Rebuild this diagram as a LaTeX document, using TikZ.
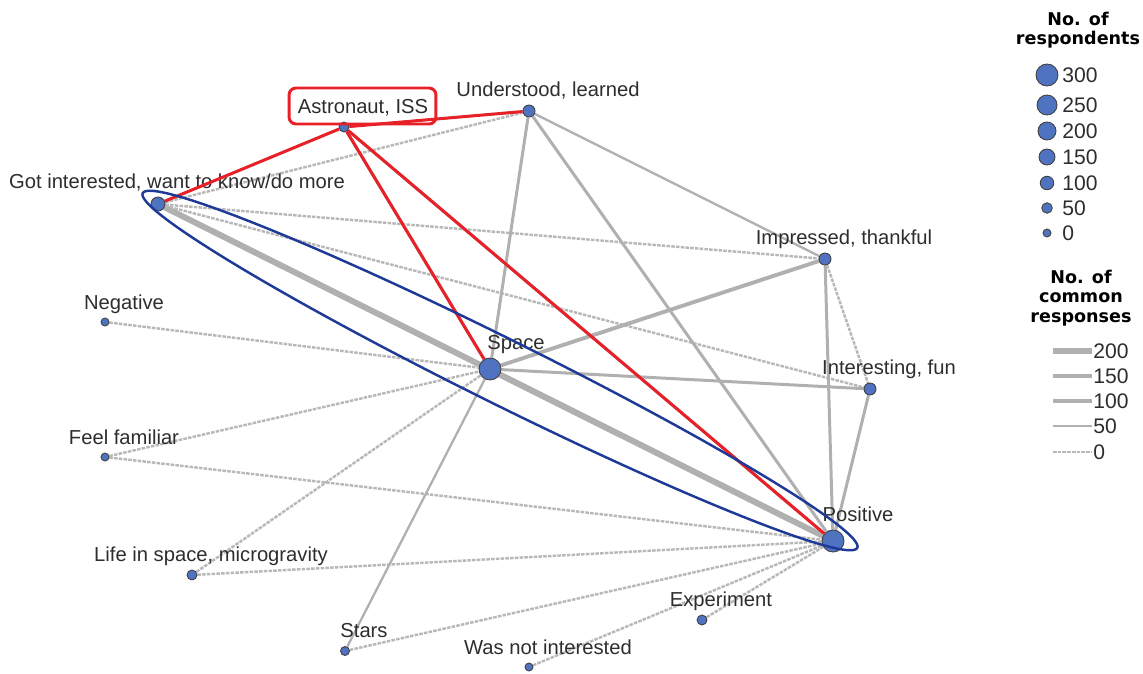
\documentclass[tikz,border=0pt]{standalone}
\usepackage{fontspec}
\setmainfont{Liberation Sans}
\newfontfamily\lgdfont{DejaVu Sans}
\usetikzlibrary{shapes.geometric, backgrounds}

\definecolor{nodeblue}{RGB}{79,114,193}
\definecolor{edgegray}{RGB}{176,176,176}
\definecolor{hlred}{RGB}{232,32,40}
\definecolor{hlblue}{RGB}{30,58,150}
\definecolor{txtgray}{RGB}{45,45,45}

\begin{document}
\begin{tikzpicture}[
      x=0.02cm, y=-0.02cm,
      resp/.style={circle, draw=black!75, fill=nodeblue, inner sep=0pt, line width=0.5pt},
      lbl/.style={font=\fontsize{11.5}{13}\selectfont, text=txtgray, inner sep=0pt, anchor=base, xshift=0.38cm, label distance=0.17cm},
      e0/.style={draw=edgegray!90, line width=1.4pt, dash pattern=on 2pt off 0.7pt},
      e25/.style={draw=edgegray, line width=1.3pt},
      e50/.style={draw=edgegray, line width=1.7pt},
      e100/.style={draw=edgegray, line width=2.2pt},
      e150/.style={draw=edgegray, line width=2.8pt},
      e200/.style={draw=edgegray, line width=3.4pt},
      hl/.style={draw=hlred, line width=1.7pt},
      hlbox/.style={rectangle, rounded corners=4pt, draw=hlred, line width=1.7pt, minimum width=2.94cm, minimum height=0.72cm},
      ring/.style={ellipse, draw=hlblue, line width=1.4pt, inner sep=0pt, minimum width=15.96cm, minimum height=1.3cm, rotate=-26.4},
      lgdtitle/.style={font=\lgdfont\bfseries\fontsize{10}{11}\selectfont, align=center, inner sep=0pt},
      lgdtxt/.style={font=\fontsize{12}{13}\selectfont, text=txtgray, anchor=west, inner sep=0pt}
    ]
    \useasboundingbox (0,0) rectangle (1143,673);

    % responses
    \node [resp, minimum size=0.2cm, label={[lbl]above:{Astronaut, ISS}}] (astro) at (344,127) {};
    \node [resp, minimum size=0.24cm, label={[lbl]above:{Understood, learned}}] (under) at (529,111) {};
    \node [resp, minimum size=0.28cm, label={[lbl]above:{Got interested, want to know/do more}}] (gotint) at (158,204) {};
    \node [resp, minimum size=0.24cm, label={[lbl]above:{Impressed, thankful}}] (impr) at (825,259) {};
    \node [resp, minimum size=0.16cm, label={[lbl]above:Negative}] (neg) at (105,322) {};
    \node [resp, minimum size=0.44cm, label={[lbl, xshift=0.14cm]above:Space}] (space) at (490,369) {};
    \node [resp, minimum size=0.24cm, label={[lbl]above:{Interesting, fun}}] (inter) at (870,389) {};
    \node [resp, minimum size=0.16cm, label={[lbl]above:{Feel familiar}}] (feel) at (105,457) {};
    \node [resp, minimum size=0.44cm, label={[lbl, xshift=0.12cm]above:Positive}] (pos) at (833,541) {};
    \node [resp, minimum size=0.2cm, label={[lbl]above:{Life in space, microgravity}}] (life) at (192,575) {};
    \node [resp, minimum size=0.2cm, label={[lbl]above:Experiment}] (exp) at (702,620) {};
    \node [resp, minimum size=0.18cm, label={[lbl]above:Stars}] (stars) at (345,651) {};
    \node [resp, minimum size=0.16cm, label={[lbl]above:{Was not interested}}] (wasnot) at (529,667) {};

    % common responses
    \begin{scope}[on background layer]
      \draw [e200] (gotint) -- (pos);
      \draw [e150] (space) -- (pos);
      \draw [e50] (astro) -- (pos);
      \draw [e50] (astro) -- (space);
      \draw [e0] (astro) -- (under);
      \draw [e0] (astro) -- (gotint);
      \draw [e0] (gotint) -- (under);
      \draw [e0] (gotint) -- (impr);
      \draw [e0] (gotint) -- (inter);
      \draw [e50] (under) -- (space);
      \draw [e50] (under) -- (pos);
      \draw [e25] (under) -- (impr);
      \draw [e100] (impr) -- (space);
      \draw [e50] (impr) -- (pos);
      \draw [e0] (impr) -- (inter);
      \draw [e50] (inter) -- (space);
      \draw [e50] (inter) -- (pos);
      \draw [e0] (neg) -- (space);
      \draw [e0] (feel) -- (space);
      \draw [e0] (feel) -- (pos);
      \draw [e0] (life) -- (space);
      \draw [e0] (life) -- (pos);
      \draw [e25] (stars) -- (space);
      \draw [e0] (stars) -- (pos);
      \draw [e0] (wasnot) -- (pos);
      \draw [e0] (exp) -- (pos);
    \end{scope}

    % highlights
    \draw [hl] (astro) -- (under);
    \draw [hl] (astro) -- (gotint);
    \draw [hl] (astro) -- (space);
    \draw [hl] (astro) -- (pos);
    \node [hlbox] (astrobox) at (362.5,106) {};
    \node [ring] (gotpos) at (500,370.5) {};

    % legend: respondents
    \node [lgdtitle] (resptitle) at (1078,30) {No. of\\respondents};
    \node [resp, minimum size=0.44cm] (r300) at (1047,75) {};
    \node [resp, minimum size=0.40cm] (r250) at (1047,105) {};
    \node [resp, minimum size=0.36cm] (r200) at (1047,131) {};
    \node [resp, minimum size=0.32cm] (r150) at (1047,157) {};
    \node [resp, minimum size=0.27cm] (r100) at (1047,183) {};
    \node [resp, minimum size=0.21cm] (r50) at (1047,208) {};
    \node [resp, minimum size=0.16cm] (r0) at (1047,233) {};
    \node [lgdtxt] (t300) at (1062,75) {300};
    \node [lgdtxt] (t250) at (1062,105) {250};
    \node [lgdtxt] (t200) at (1062,131) {200};
    \node [lgdtxt] (t150) at (1062,157) {150};
    \node [lgdtxt] (t100) at (1062,183) {100};
    \node [lgdtxt] (t50) at (1062,208) {50};
    \node [lgdtxt] (t0) at (1062,233) {0};

    % legend: common responses
    \node [lgdtitle] (comtitle) at (1081,298) {No. of\\common\\responses};
    \draw [e200] (1053,351) -- (1092,351);
    \draw [e150] (1053,376) -- (1092,376);
    \draw [e100] (1053,401) -- (1092,401);
    \draw [e50] (1053,426) -- (1092,426);
    \draw [e0] (1053,452) -- (1092,452);
    \node [lgdtxt] (c200) at (1093,351) {200};
    \node [lgdtxt] (c150) at (1093,376) {150};
    \node [lgdtxt] (c100) at (1093,401) {100};
    \node [lgdtxt] (c50) at (1093,426) {50};
    \node [lgdtxt] (c0) at (1093,452) {0};
  \end{tikzpicture}
\end{document}
